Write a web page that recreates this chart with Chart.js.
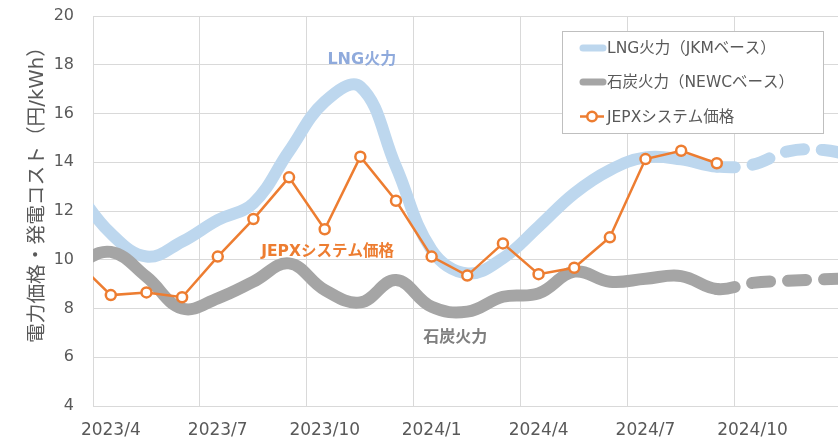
<!DOCTYPE html>
<html><head><meta charset="utf-8">
<script src="https://cdn.jsdelivr.net/npm/chart.js@4.4.1/dist/chart.umd.min.js"></script>
<style>html,body{margin:0;padding:0;background:#fff;overflow:hidden}#wrap{width:838px;height:440px;position:relative}</style>
</head><body><div id="wrap"><canvas id="c"></canvas></div>
<script>
// ---- data ----
const months = ['2023/3','2023/4','2023/5','2023/6','2023/7','2023/8','2023/9','2023/10','2023/11','2023/12',
  '2024/1','2024/2','2024/3','2024/4','2024/5','2024/6','2024/7','2024/8','2024/9','2024/10','2024/11','2024/12','2025/1'];
const lngCost  = [12.9, 11.08, 10.13, 10.74, 11.63, 12.32, 14.45, 16.48, 17.1, 13.82, 10.4, 9.44, 10.06, 11.36, 12.72, 13.68, 14.2, 14.12, 13.82, 13.9, 14.45, 14.5, 14.2];
const coalCost = [9.8, 10.32, 9.3, 8.0, 8.42, 9.1, 9.85, 8.76, 8.25, 9.17, 8.07, 7.87, 8.48, 8.62, 9.51, 9.1, 9.22, 9.33, 8.8, 9.05, 9.14, 9.2, 9.25];
const jepxPrice = [9.97, 8.55, 8.66, 8.46, 10.13, 11.67, 13.38, 11.25, 14.23, 12.42, 10.13, 9.35, 10.67, 9.41, 9.67, 10.92, 14.13, 14.47, 13.96];
const seriesNames = ['LNG火力（JKMベース）', '石炭火力（NEWCベース）', 'JEPXシステム価格'];
const xTickLabels = ['2023/4', '2023/7', '2023/10', '2024/1', '2024/4', '2024/7', '2024/10'];
const firstMonth = '2023/4';
const forecastFrom = '2024/9';
const yMin = 4, yMax = 20, yStep = 2;
const yAxisTitle = '電力価格・発電コスト（円/kWh）';
const seriesLabelTexts = ['LNG火力', 'JEPXシステム価格', '石炭火力'];
const seriesLabelMonth = [7.04, 6.08, 9.66];   // months after 2023/4
const seriesLabelValue = [18.19, 10.33, 6.79];

// ---- build ----
const base = months.indexOf(firstMonth);
const toPts = arr => arr.map((v, i) => ({ x: i - base, y: v }));
const xTicks = xTickLabels.map(l => months.indexOf(l) - base);
const xGrid = xTicks.map(v => v - 0.5);
const forecastX = months.indexOf(forecastFrom) - base;
const X_MIN = -0.5, X_MAX = 20.4;

const FONT = "'DejaVu Sans','Noto Sans CJK JP',sans-serif";
const TXT = '#595959';
const GRID = '#d9d9d9';
const COLORS = ['#BDD7EE', '#A5A5A5', '#ED7D31'];
const LABEL_COLORS = ['#8FAADC', '#ED7D31', '#7F7F7F'];

const dashSeg = { borderDash: ctx => ctx.p0.parsed.x >= forecastX ? [18, 18] : undefined };
const noPad = s => { s.paddingLeft = 0; s.paddingRight = 0; s.paddingTop = 0; s.paddingBottom = 0; };

const overlay = {
  id: 'overlay',
  afterDraw(chart) {
    const { ctx, scales: { x, y } } = chart;
    ctx.save();
    // series annotations
    ctx.textAlign = 'center'; ctx.textBaseline = 'middle';
    seriesLabelTexts.forEach((t, i) => {
      ctx.font = `bold ${i === 1 ? 15.5 : 16}px ${FONT}`;
      ctx.fillStyle = LABEL_COLORS[i];
      ctx.fillText(t, x.getPixelForValue(seriesLabelMonth[i]), y.getPixelForValue(seriesLabelValue[i]));
    });
    // y axis title
    ctx.save();
    ctx.translate(38, 190); ctx.rotate(-Math.PI / 2);
    ctx.font = `19.7px ${FONT}`; ctx.fillStyle = TXT;
    ctx.fillText(yAxisTitle, 0, 0);
    ctx.restore();
    // legend
    const L = { left: 562, top: 31, right: 823, bottom: 133 };
    ctx.fillStyle = '#fff';
    ctx.fillRect(L.left, L.top, L.right - L.left, L.bottom - L.top);
    ctx.strokeStyle = '#bfbfbf'; ctx.lineWidth = 1;
    ctx.strokeRect(L.left + 0.5, L.top + 0.5, L.right - L.left, L.bottom - L.top);
    const rows = [48, 82, 116.5];
    ctx.textAlign = 'left';
    ctx.font = `15.5px ${FONT}`;
    seriesNames.forEach((name, i) => {
      const ry = rows[i];
      ctx.strokeStyle = COLORS[i];
      if (i < 2) {
        ctx.lineWidth = 7; ctx.lineCap = 'round';
        ctx.beginPath(); ctx.moveTo(583, ry); ctx.lineTo(603, ry); ctx.stroke();
      } else {
        ctx.lineWidth = 2.5; ctx.lineCap = 'butt';
        ctx.beginPath(); ctx.moveTo(580, ry); ctx.lineTo(604, ry); ctx.stroke();
        ctx.beginPath(); ctx.arc(592, ry, 4.75, 0, Math.PI * 2);
        ctx.fillStyle = '#fff'; ctx.fill(); ctx.stroke();
      }
      ctx.fillStyle = TXT;
      ctx.fillText(name, 607, ry + 1);
    });
    ctx.restore();
  }
};

new Chart(document.getElementById('c'), {
  type: 'line',
  data: {
    datasets: [
      { label: seriesNames[2], data: toPts(jepxPrice), borderColor: COLORS[2], borderWidth: 2.5,
        pointRadius: 5, pointBorderWidth: 2.5, pointBackgroundColor: '#fff', pointBorderColor: COLORS[2],
        tension: 0, order: 1, clip: 0 },
      { label: seriesNames[1], data: toPts(coalCost), borderColor: COLORS[1], borderWidth: 12,
        borderCapStyle: 'round', borderJoinStyle: 'round', pointRadius: 0, tension: 0.4,
        segment: dashSeg, order: 2, clip: 0 },
      { label: seriesNames[0], data: toPts(lngCost), borderColor: COLORS[0], borderWidth: 12,
        borderCapStyle: 'round', borderJoinStyle: 'round', pointRadius: 0, tension: 0.4,
        segment: dashSeg, order: 3, clip: 0 }
    ]
  },
  options: {
    responsive: true, maintainAspectRatio: false, animation: false,
    layout: { autoPadding: false, padding: { top: 16, right: 0, bottom: 0, left: 0 } },
    elements: { line: { capBezierPoints: false } },
    plugins: { legend: { display: false }, tooltip: { enabled: false } },
    scales: {
      x: {
        type: 'linear', position: 'bottom', min: X_MIN, max: X_MAX,
        afterBuildTicks: s => { s.ticks = xTicks.map(v => ({ value: v })); },
        afterFit: s => { s.height = 34; noPad(s); },
        grid: { display: false, drawTicks: false },
        border: { display: true, color: GRID, width: 1 },
        ticks: { autoSkip: false, maxRotation: 0, padding: 14, color: TXT,
          font: { family: FONT, size: 17 }, callback: (v, i) => xTickLabels[i] }
      },
      xg: {
        type: 'linear', position: 'top', min: X_MIN, max: X_MAX,
        afterBuildTicks: s => { s.ticks = xGrid.map(v => ({ value: v })); },
        afterFit: s => { s.height = 0; noPad(s); },
        grid: { display: true, drawTicks: false, color: GRID, lineWidth: 1 },
        border: { display: false },
        ticks: { display: false }
      },
      y: {
        min: yMin, max: yMax,
        afterFit: s => { s.width = 93; noPad(s); },
        grid: { color: GRID, lineWidth: 1, drawTicks: false },
        border: { display: true, color: GRID, width: 1 },
        ticks: { stepSize: yStep, padding: 19, color: TXT, font: { family: FONT, size: 16 } }
      }
    }
  },
  plugins: [overlay]
});
</script>
</body></html>
